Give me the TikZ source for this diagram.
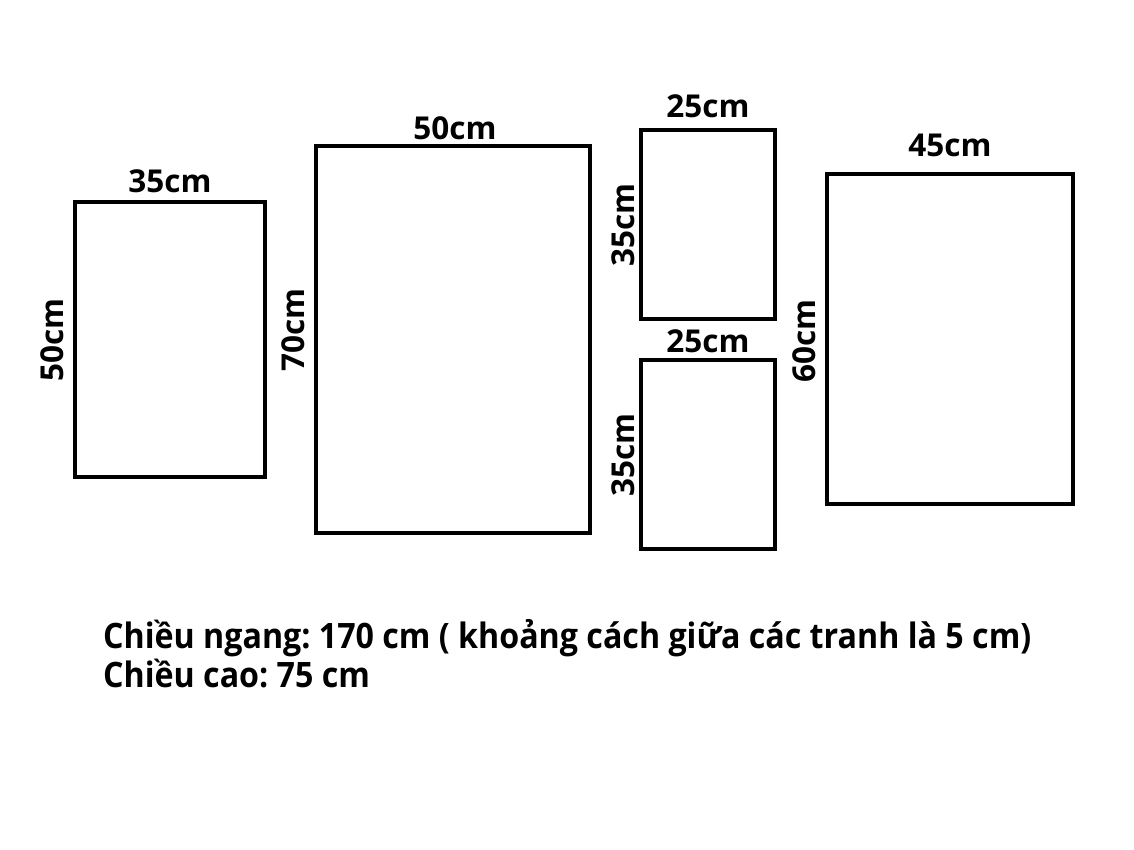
\documentclass[tikz,border=0pt]{standalone}
\usepackage{fontspec}
\setmainfont{Open Sans}
\frenchspacing
\begin{document}
\begin{tikzpicture}[x=1pt,y=-1pt,
  frame/.style={draw=black,line width=4.3pt,fill=white},
  dim/.style={inner sep=0pt,font=\fontsize{31.5}{36}\selectfont\bfseries},
  note/.style={inner sep=0pt,anchor=base west,font=\fontsize{35}{40}\selectfont\bfseries}]
\useasboundingbox[fill=white] (0,0) rectangle (1134,850);
\draw[frame] (74.7,202) rectangle (265.3,477);
\draw[frame] (316,146) rectangle (590,533);
\draw[frame] (641,130) rectangle (775,319);
\draw[frame] (641,360) rectangle (775,549);
\draw[frame] (827,174) rectangle (1073,504);
\node[dim] (w1) at (170,181) {35cm};
\node[dim,rotate=90] (h1) at (52,340) {50cm};
\node[dim] (w2) at (455,128) {50cm};
\node[dim,rotate=90] (h2) at (293,330) {70cm};
\node[dim] (w3) at (708,106) {25cm};
\node[dim,rotate=90] (h3) at (623,225) {35cm};
\node[dim] (w4) at (708,341) {25cm};
\node[dim,rotate=90] (h4) at (623,455) {35cm};
\node[dim] (w5) at (950,145) {45cm};
\node[dim,rotate=90] (h5) at (804,341) {60cm};
\node[note] (n1) at (103,648) {\scalebox{0.92}[1]{Chiều ngang: 170 cm ( khoảng cách giữa các tranh là 5 cm)}};
\node[note] (n2) at (103,687) {\scalebox{0.92}[1]{Chiều cao: 75 cm}};
\end{tikzpicture}
\end{document}
